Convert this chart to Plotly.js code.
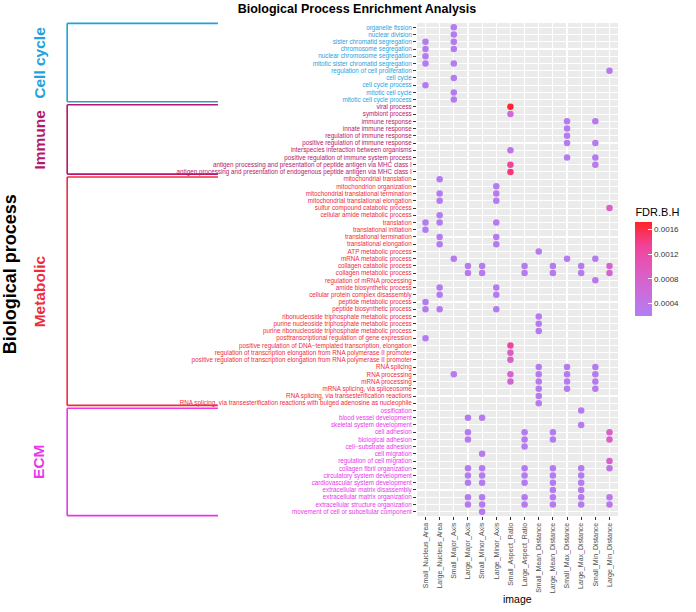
<!DOCTYPE html>
<html><head><meta charset="utf-8">
<script src="https://cdn.plot.ly/plotly-3.0.1.min.js"></script>
<style>html,body{margin:0;padding:0;background:#fff}#chart{width:696px;height:612px}</style>
</head><body><div id="chart"></div>
<script>
// ---------- data ----------
const features = ["Small_Nucleus_Area","Large_Nucleus_Area","Small_Major_Axis","Large_Major_Axis",
  "Small_Minor_Axis","Large_Minor_Axis","Small_Aspect_Ratio","Large_Aspect_Ratio",
  "Small_Mean_Distance","Large_Mean_Distance","Small_Max_Distance","Large_Max_Distance",
  "Small_Min_Distance","Large_Min_Distance"];

const cellCycleTerms = ["organelle fission","nuclear division","sister chromatid segregation",
  "chromosome segregation","nuclear chromosome segregation","mitotic sister chromatid segregation",
  "regulation of cell proliferation","cell cycle","cell cycle process","mitotic cell cycle",
  "mitotic cell cycle process"];
const immuneTerms = ["viral process","symbiont process","immune response","innate immune response",
  "regulation of immune response","positive regulation of immune response",
  "interspecies interaction between organisms","positive regulation of immune system process",
  "antigen processing and presentation of peptide antigen via MHC class I",
  "antigen processing and presentation of endogenous peptide antigen via MHC class I"];
const metabolicTerms = ["mitochondrial translation","mitochondrion organization",
  "mitochondrial translational termination","mitochondrial translational elongation",
  "sulfur compound catabolic process","cellular amide metabolic process","translation",
  "translational initiation","translational termination","translational elongation",
  "ATP metabolic process","mRNA metabolic process","collagen catabolic process",
  "collagen metabolic process","regulation of mRNA processing","amide biosynthetic process",
  "cellular protein complex disassembly","peptide metabolic process","peptide biosynthetic process",
  "ribonucleoside triphosphate metabolic process","purine nucleoside triphosphate metabolic process",
  "purine ribonucleoside triphosphate metabolic process","posttranscriptional regulation of gene expression",
  "positive regulation of DNA\u2212templated transcription, elongation",
  "regulation of transcription elongation from RNA polymerase II promoter",
  "positive regulation of transcription elongation from RNA polymerase II promoter",
  "RNA splicing","RNA processing","mRNA processing","mRNA splicing, via spliceosome",
  "RNA splicing, via transesterification reactions",
  "RNA splicing, via transesterification reactions with bulged adenosine as nucleophile"];
const ecmTerms = ["ossification","blood vessel development","skeletal system development","cell adhesion",
  "biological adhesion","cell\u2212substrate adhesion","cell migration","regulation of cell migration",
  "collagen fibril organization","circulatory system development","cardiovascular system development",
  "extracellular matrix disassembly","extracellular matrix organization",
  "extracellular structure organization","movement of cell or subcellular component"];

const groupNames = ["Cell cycle","Immune","Metabolic","ECM"];

const dotTerm = [
 "organelle fission","nuclear division",
 "sister chromatid segregation","sister chromatid segregation",
 "chromosome segregation","chromosome segregation",
 "nuclear chromosome segregation",
 "mitotic sister chromatid segregation","mitotic sister chromatid segregation",
 "regulation of cell proliferation","cell cycle","cell cycle process","mitotic cell cycle","mitotic cell cycle process",
 "viral process","symbiont process",
 "immune response","immune response","innate immune response","regulation of immune response",
 "positive regulation of immune response","positive regulation of immune response",
 "interspecies interaction between organisms",
 "positive regulation of immune system process","positive regulation of immune system process",
 "antigen processing and presentation of peptide antigen via MHC class I","antigen processing and presentation of peptide antigen via MHC class I",
 "antigen processing and presentation of endogenous peptide antigen via MHC class I",
 "mitochondrial translation","mitochondrion organization",
 "mitochondrial translational termination","mitochondrial translational termination",
 "mitochondrial translational elongation","mitochondrial translational elongation",
 "sulfur compound catabolic process","cellular amide metabolic process",
 "translation","translation","translation","translational initiation",
 "translational termination","translational termination","translational elongation","translational elongation",
 "ATP metabolic process",
 "mRNA metabolic process","mRNA metabolic process","mRNA metabolic process",
 "collagen catabolic process","collagen catabolic process","collagen catabolic process","collagen catabolic process","collagen catabolic process","collagen catabolic process",
 "collagen metabolic process","collagen metabolic process","collagen metabolic process","collagen metabolic process","collagen metabolic process","collagen metabolic process",
 "regulation of mRNA processing",
 "amide biosynthetic process","amide biosynthetic process",
 "cellular protein complex disassembly","cellular protein complex disassembly",
 "peptide metabolic process",
 "peptide biosynthetic process","peptide biosynthetic process","peptide biosynthetic process",
 "ribonucleoside triphosphate metabolic process","purine nucleoside triphosphate metabolic process",
 "purine ribonucleoside triphosphate metabolic process","posttranscriptional regulation of gene expression",
 "positive regulation of DNA\u2212templated transcription, elongation",
 "regulation of transcription elongation from RNA polymerase II promoter",
 "positive regulation of transcription elongation from RNA polymerase II promoter",
 "RNA splicing","RNA splicing","RNA splicing",
 "RNA processing","RNA processing","RNA processing","RNA processing","RNA processing",
 "mRNA processing","mRNA processing","mRNA processing","mRNA processing",
 "mRNA splicing, via spliceosome","mRNA splicing, via spliceosome","mRNA splicing, via spliceosome",
 "RNA splicing, via transesterification reactions",
 "RNA splicing, via transesterification reactions with bulged adenosine as nucleophile",
 "ossification","blood vessel development","blood vessel development","skeletal system development",
 "cell adhesion","cell adhesion","cell adhesion","cell adhesion",
 "biological adhesion","biological adhesion","biological adhesion","biological adhesion",
 "cell\u2212substrate adhesion","cell migration","regulation of cell migration",
 "collagen fibril organization","collagen fibril organization","collagen fibril organization","collagen fibril organization","collagen fibril organization","collagen fibril organization",
 "circulatory system development","circulatory system development","circulatory system development","circulatory system development","circulatory system development",
 "cardiovascular system development","cardiovascular system development","cardiovascular system development","cardiovascular system development","cardiovascular system development",
 "extracellular matrix disassembly","extracellular matrix disassembly",
 "extracellular matrix organization","extracellular matrix organization","extracellular matrix organization","extracellular matrix organization","extracellular matrix organization","extracellular matrix organization",
 "extracellular structure organization","extracellular structure organization","extracellular structure organization","extracellular structure organization","extracellular structure organization","extracellular structure organization",
 "movement of cell or subcellular component"
];
const dotImage = [
 "Small_Major_Axis","Small_Major_Axis",
 "Small_Nucleus_Area","Small_Major_Axis",
 "Small_Nucleus_Area","Small_Major_Axis",
 "Small_Nucleus_Area",
 "Small_Nucleus_Area","Small_Major_Axis",
 "Large_Min_Distance","Small_Major_Axis","Small_Nucleus_Area","Small_Major_Axis","Small_Major_Axis",
 "Small_Aspect_Ratio","Small_Aspect_Ratio",
 "Small_Max_Distance","Small_Min_Distance","Small_Max_Distance","Small_Max_Distance",
 "Small_Max_Distance","Small_Min_Distance",
 "Small_Aspect_Ratio",
 "Small_Max_Distance","Small_Min_Distance",
 "Small_Aspect_Ratio","Small_Min_Distance",
 "Small_Aspect_Ratio",
 "Large_Nucleus_Area","Large_Minor_Axis",
 "Large_Nucleus_Area","Large_Minor_Axis",
 "Large_Nucleus_Area","Large_Minor_Axis",
 "Large_Min_Distance","Large_Nucleus_Area",
 "Small_Nucleus_Area","Large_Nucleus_Area","Large_Minor_Axis","Small_Nucleus_Area",
 "Large_Nucleus_Area","Large_Minor_Axis","Large_Nucleus_Area","Large_Minor_Axis",
 "Small_Mean_Distance",
 "Small_Major_Axis","Small_Max_Distance","Small_Min_Distance",
 "Large_Major_Axis","Small_Minor_Axis","Large_Aspect_Ratio","Large_Mean_Distance","Large_Max_Distance","Large_Min_Distance",
 "Large_Major_Axis","Small_Minor_Axis","Large_Aspect_Ratio","Large_Mean_Distance","Large_Max_Distance","Large_Min_Distance",
 "Small_Min_Distance",
 "Large_Nucleus_Area","Large_Minor_Axis",
 "Large_Nucleus_Area","Large_Minor_Axis",
 "Small_Nucleus_Area",
 "Small_Nucleus_Area","Large_Nucleus_Area","Large_Minor_Axis",
 "Small_Mean_Distance","Small_Mean_Distance",
 "Small_Mean_Distance","Small_Nucleus_Area",
 "Small_Aspect_Ratio",
 "Small_Aspect_Ratio",
 "Small_Aspect_Ratio",
 "Small_Mean_Distance","Small_Max_Distance","Small_Min_Distance",
 "Small_Major_Axis","Small_Aspect_Ratio","Small_Mean_Distance","Small_Max_Distance","Small_Min_Distance",
 "Small_Aspect_Ratio","Small_Mean_Distance","Small_Max_Distance","Small_Min_Distance",
 "Small_Mean_Distance","Small_Max_Distance","Small_Min_Distance",
 "Small_Mean_Distance",
 "Small_Mean_Distance",
 "Large_Max_Distance","Large_Major_Axis","Small_Minor_Axis","Large_Max_Distance",
 "Large_Major_Axis","Large_Aspect_Ratio","Large_Mean_Distance","Large_Min_Distance",
 "Large_Major_Axis","Large_Aspect_Ratio","Large_Mean_Distance","Large_Min_Distance",
 "Large_Aspect_Ratio","Small_Minor_Axis","Large_Min_Distance",
 "Large_Major_Axis","Small_Minor_Axis","Large_Aspect_Ratio","Large_Mean_Distance","Large_Max_Distance","Large_Min_Distance",
 "Large_Major_Axis","Small_Minor_Axis","Large_Aspect_Ratio","Large_Mean_Distance","Large_Max_Distance",
 "Large_Major_Axis","Small_Minor_Axis","Large_Aspect_Ratio","Large_Mean_Distance","Large_Max_Distance",
 "Large_Mean_Distance","Large_Max_Distance",
 "Large_Major_Axis","Small_Minor_Axis","Large_Aspect_Ratio","Large_Mean_Distance","Large_Max_Distance","Large_Min_Distance",
 "Large_Major_Axis","Small_Minor_Axis","Large_Aspect_Ratio","Large_Mean_Distance","Large_Max_Distance","Large_Min_Distance",
 "Small_Minor_Axis"
];
const dotFDR = [
 0.00025,0.00025,
 0.00024,0.00025,
 0.00024,0.00025,
 0.00024,
 0.00024,0.00025,
 0.0003,0.00025,0.00024,0.00025,0.00025,
 0.0017,0.0006,
 0.00026,0.00027,0.00026,0.00026,
 0.00026,0.00027,
 0.0004,
 0.00026,0.00028,
 0.0013,0.00028,
 0.00145,
 0.00025,0.00026,
 0.00025,0.00026,
 0.00025,0.00026,
 0.0008,0.00025,
 0.00024,0.00025,0.00026,0.00024,
 0.00025,0.00026,0.00025,0.00026,
 0.00026,
 0.00026,0.00026,0.00027,
 0.00026,0.00026,0.00026,0.00026,0.00026,0.0007,
 0.00026,0.00026,0.00026,0.00026,0.00026,0.0007,
 0.00027,
 0.00025,0.00026,
 0.00025,0.00026,
 0.00024,
 0.00024,0.00025,0.00026,
 0.00026,0.00026,
 0.00026,0.00024,
 0.0013,
 0.0009,
 0.0008,
 0.00026,0.00026,0.00027,
 0.00026,0.0007,0.00026,0.00026,0.00027,
 0.0007,0.00026,0.00026,0.00027,
 0.00026,0.00026,0.00027,
 0.00026,
 0.00026,
 0.00026,0.00026,0.00026,0.00026,
 0.00026,0.00026,0.00026,0.0008,
 0.00026,0.00026,0.00026,0.0008,
 0.00026,0.00026,0.0008,
 0.00026,0.00026,0.00026,0.00026,0.00026,0.0004,
 0.00026,0.00026,0.00026,0.00026,0.00026,
 0.00026,0.00026,0.00026,0.00026,0.00026,
 0.00026,0.00026,
 0.00026,0.00026,0.00026,0.00026,0.00026,0.0003,
 0.00026,0.00026,0.00026,0.00026,0.00026,0.0003,
 0.00026
];
const fdrTickVals = [0.0004,0.0008,0.0012,0.0016];
const fdrTickText = ["0.0004","0.0008","0.0012","0.0016"];

// ---------- styling / layout ----------
const groupColors = ["#1FA2DD","#B5176B","#EE2C3C","#EA35EA"];
const FONT = "Liberation Sans, Arial, Helvetica, sans-serif";
const W = 696, H = 612, L = 417, R = 625, T = 23, B = 516;
const px2x = px => (px - L) / (R - L);
const py2y = py => 1 - (py - T) / (B - T);

const groups = [cellCycleTerms, immuneTerms, metabolicTerms, ecmTerms];
const terms = [].concat(...groups);
const nT = terms.length;
const pad = 0.6;
const span = nT - 1 + 2 * pad;
const idx2dom = i => 1 - (i + pad) / span;   // category index -> y domain fraction

const colorOf = {};
groups.forEach((g, k) => g.forEach(t => colorOf[t] = groupColors[k]));
const tickText = terms.map(t => '<span style="color:' + colorOf[t] + '">' + t + '</span>');

const shapes = [], annotations = [];
let start = 0;
groups.forEach((g, k) => {
  const first = start, last = start + g.length - 1;
  start += g.length;
  const top = k === 0 ? -pad + 0.05 : first - 0.3;
  const bot = k === groups.length - 1 ? nT - 1 + pad - 0.05 : last + 0.3;
  const yT = idx2dom(top), yB = idx2dom(bot);
  const xV = px2x(55), xH = px2x(211);
  const line = {color: groupColors[k], width: 1.6};
  shapes.push({type:'line', xref:'paper', yref:'y domain', x0:xV, x1:xV, y0:yT, y1:yB, line});
  shapes.push({type:'line', xref:'paper', yref:'y domain', x0:xV, x1:xH, y0:yT, y1:yT, line});
  shapes.push({type:'line', xref:'paper', yref:'y domain', x0:xV, x1:xH, y0:yB, y1:yB, line});
  annotations.push({text:'<b>' + groupNames[k] + '</b>', xref:'paper', yref:'y domain',
    x: px2x(26), y: (yT + yB) / 2, textangle: -90, showarrow:false,
    xanchor:'center', yanchor:'middle', font:{size:15.5, color: groupColors[k], family: FONT}});
});

annotations.push({text:'<b>Biological process</b>', xref:'paper', yref:'paper',
  x: px2x(-4), y: py2y(274), textangle:-90, showarrow:false, xanchor:'center', yanchor:'middle',
  font:{size:18, color:'#000', family: FONT}});
annotations.push({text:'image', xref:'paper', yref:'paper', x: 0.5, y: py2y(599),
  showarrow:false, xanchor:'center', yanchor:'middle', font:{size:10.5, color:'#000', family: FONT}});

const trace = {
  type:'scatter', mode:'markers', x: dotImage, y: dotTerm,
  marker:{size:6.5, color: dotFDR, cmin:0.0002, cmax:0.00172,
    colorscale:[[0,'#B27EF4'],[0.25,'#CB6CDB'],[0.5,'#DF5ABE'],[0.75,'#F1429A'],[1,'#FF2424']],
    line:{width:0},
    showscale:true,
    colorbar:{thickness:17, thicknessmode:'pixels', len:111, lenmode:'pixels',
      x: px2x(643), xanchor:'left', y: py2y(205), yanchor:'top', xpad:0, ypad:0,
      outlinewidth:0, ticks:'inside', ticklen:4, tickcolor:'#fff', tickwidth:1,
      tickvals: fdrTickVals, ticktext: fdrTickText,
      tickfont:{size:8, color:'#333', family: FONT},
      title:{text:'FDR.B.H', side:'top', font:{size:11, color:'#000', family: FONT}}}
  },
  hovertemplate:'%{y}<br>%{x}<br>FDR %{marker.color}<extra></extra>'
};

const layout = {
  width: W, height: H,
  margin:{l:L, r:W - R, t:T, b:H - B, pad:0},
  paper_bgcolor:'#fff', plot_bgcolor:'#EBEBEB',
  font:{family: FONT, color:'#333'},
  showlegend:false,
  title:{text:'<b>Biological Process Enrichment Analysis</b>', xref:'container', yref:'container',
    x: 357 / W, xanchor:'center', y: 1 - 9 / H, yanchor:'middle',
    font:{size:12.5, color:'#000', family: FONT}},
  xaxis:{type:'category', categoryorder:'array', categoryarray: features,
    range:[-pad, features.length - 1 + pad], showgrid:true, gridcolor:'#fff', gridwidth:1.1,
    zeroline:false, showline:false, ticks:'outside', ticklen:3, tickwidth:1, tickcolor:'#333',
    tickangle:-90, tickfont:{size:7, color:'#4D4D4D', family: FONT}, automargin:false},
  yaxis:{type:'category', categoryorder:'array', categoryarray: terms,
    tickmode:'array', tickvals: terms, ticktext: tickText,
    range:[nT - 1 + pad, -pad], showgrid:true, gridcolor:'#fff', gridwidth:1.1,
    zeroline:false, showline:false, ticks:'outside', ticklen:3, tickwidth:1, tickcolor:'#333',
    tickfont:{size:6.3, color:'#4D4D4D', family: FONT}, automargin:false},
  shapes, annotations
};

Plotly.newPlot('chart', [trace], layout, {displayModeBar:false, staticPlot:true});
</script>
</body></html>
